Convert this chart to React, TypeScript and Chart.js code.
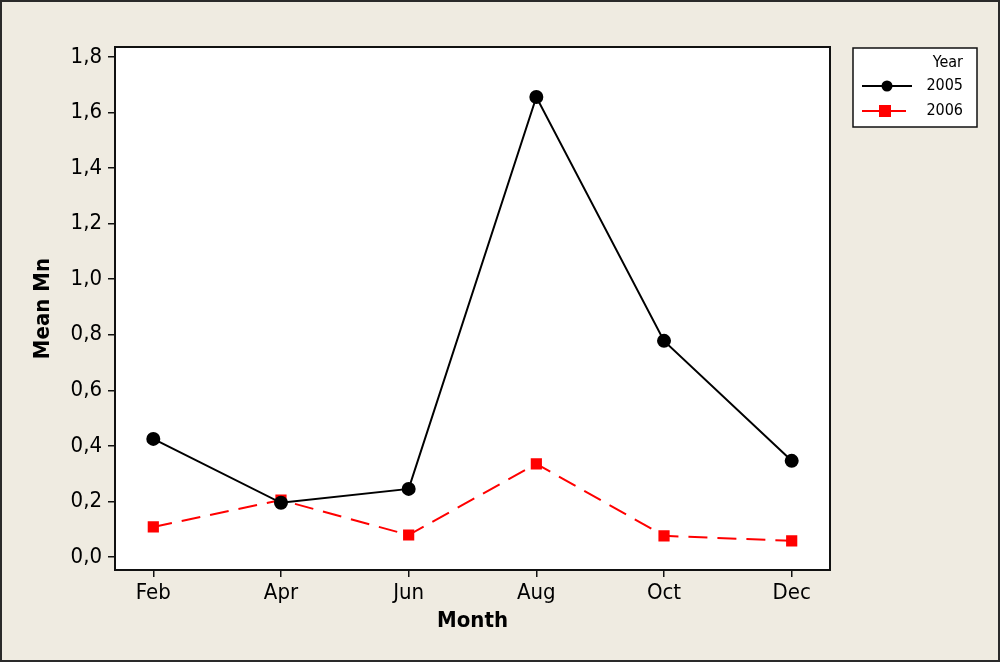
import React, { useEffect, useRef } from "react";
import { Chart, registerables } from "chart.js";

Chart.register(...registerables);

const months = ["Feb", "Apr", "Jun", "Aug", "Oct", "Dec"];
const series2005 = [0.425, 0.195, 0.245, 1.656, 0.778, 0.346];
const series2006 = [0.108, 0.205, 0.079, 0.335, 0.076, 0.058];
const yTicks = [0, 0.2, 0.4, 0.6, 0.8, 1.0, 1.2, 1.4, 1.6, 1.8];
const legendTitle = "Year";
const seriesNames = ["2005", "2006"];

const FONT = "'DejaVu Sans Condensed', 'DejaVu Sans', Tahoma, sans-serif";

const framePlugin = {
  id: "frame",
  beforeDraw(chart: any) {
    const { ctx, width, height, chartArea } = chart;
    ctx.save();
    ctx.fillStyle = "#efebe1";
    ctx.fillRect(0, 0, width, height);
    ctx.strokeStyle = "#2a2a2a";
    ctx.lineWidth = 2;
    ctx.strokeRect(1, 1, width - 2, height - 2);
    ctx.fillStyle = "#ffffff";
    ctx.fillRect(chartArea.left, chartArea.top, chartArea.right - chartArea.left, chartArea.bottom - chartArea.top);
    ctx.restore();
  },
  afterDraw(chart: any) {
    const { ctx, chartArea } = chart;
    ctx.save();
    ctx.strokeStyle = "#111111";
    ctx.lineWidth = 2;
    ctx.strokeRect(chartArea.left, chartArea.top, chartArea.right - chartArea.left, chartArea.bottom - chartArea.top);
    // legend box
    const lx = 853, ly = 48, lw = 124, lh = 79;
    ctx.fillStyle = "#ffffff";
    ctx.fillRect(lx, ly, lw, lh);
    ctx.strokeStyle = "#111111";
    ctx.lineWidth = 1.5;
    ctx.strokeRect(lx, ly, lw, lh);
    ctx.font = `16px ${FONT}`;
    ctx.fillStyle = "#000000";
    ctx.textBaseline = "middle";
    ctx.textAlign = "right";
    ctx.fillText(legendTitle, 963, 63);
    const rows = [86, 111];
    chart.data.datasets.forEach((ds: any, i: number) => {
      const y = rows[i];
      ctx.strokeStyle = ds.borderColor;
      ctx.lineWidth = 1.8;
      ctx.setLineDash([]);
      ctx.beginPath();
      ctx.moveTo(862, y);
      ctx.lineTo(i === 0 ? 912 : 906, y);
      ctx.stroke();
      ctx.fillStyle = ds.pointBackgroundColor;
      if (i === 0) {
        ctx.beginPath();
        ctx.arc(887, y, 5.5, 0, Math.PI * 2);
        ctx.fill();
      } else {
        ctx.fillRect(879, y - 6, 12, 12);
      }
      ctx.fillStyle = "#000000";
      ctx.textAlign = "right";
      ctx.fillText(ds.label, 963, y);
    });
    ctx.restore();
  },
};

export default function App() {
  const ref = useRef<HTMLCanvasElement | null>(null);
  useEffect(() => {
    document.body.style.margin = "0";
    const canvas = ref.current!;
    const chart = new Chart(canvas, {
      type: "line",
      data: {
        datasets: [
          {
            label: seriesNames[0],
            data: series2005.map((v, i) => ({ x: i, y: v })),
            borderColor: "#000000",
            backgroundColor: "#000000",
            pointBackgroundColor: "#000000",
            pointBorderColor: "#000000",
            pointStyle: "circle",
            pointRadius: 6,
            borderWidth: 2,
            tension: 0,
          },
          {
            label: seriesNames[1],
            data: series2006.map((v, i) => ({ x: i, y: v })),
            borderColor: "#ff0000",
            backgroundColor: "#ff0000",
            pointBackgroundColor: "#ff0000",
            pointBorderColor: "#ff0000",
            pointStyle: "rect",
            pointRadius: 6.5,
            borderWidth: 2,
            borderDash: [19, 10],
            tension: 0,
          },
        ],
      },
      options: {
        responsive: false,
        animation: false,
        layout: { padding: { left: 0, top: 47, right: 170, bottom: 0 } },
        plugins: { legend: { display: false }, tooltip: { enabled: false } },
        scales: {
          x: {
            type: "linear",
            min: -0.3,
            max: 5.3,
            afterFit: (s: any) => { s.height = 92; },
            afterBuildTicks: (s: any) => { s.ticks = months.map((_, i) => ({ value: i })); },
            ticks: {
              autoSkip: false,
              includeBounds: false,
              padding: 3,
              color: "#000000",
              font: { family: FONT, size: 22 },
              callback: (v: any) => months[v] ?? "",
              maxRotation: 0,
            },
            grid: { drawOnChartArea: false, drawTicks: true, tickLength: 7, color: "#111111", lineWidth: 1.5 },
            border: { display: true, color: "#111111", width: 2 },
            title: {
              display: true,
              text: "Month",
              color: "#000000",
              font: { family: FONT, size: 22, weight: "bold", lineHeight: 1.2 },
              padding: { top: 0, bottom: 27.8 },
            },
          },
          y: {
            type: "linear",
            min: -0.047,
            max: 1.836,
            afterFit: (s: any) => { s.width = 115; },
            afterBuildTicks: (s: any) => { s.ticks = yTicks.map((v) => ({ value: v })); },
            ticks: {
              includeBounds: false,
              padding: 6,
              color: "#000000",
              font: { family: FONT, size: 22 },
              callback: (v: any) => Number(v).toFixed(1).replace(".", ","),
            },
            grid: { drawOnChartArea: false, drawTicks: true, tickLength: 7, color: "#111111", lineWidth: 1.5 },
            border: { display: true, color: "#111111", width: 2 },
            title: {
              display: true,
              text: "Mean Mn",
              color: "#000000",
              font: { family: FONT, size: 22, weight: "bold", lineHeight: 1.2 },
              padding: { top: 29.8, bottom: 0 },
            },
          },
        },
      },
      plugins: [framePlugin],
    } as any);
    return () => chart.destroy();
  }, []);
  return <canvas ref={ref} width={1000} height={662} style={{ display: "block" }} />;
}
